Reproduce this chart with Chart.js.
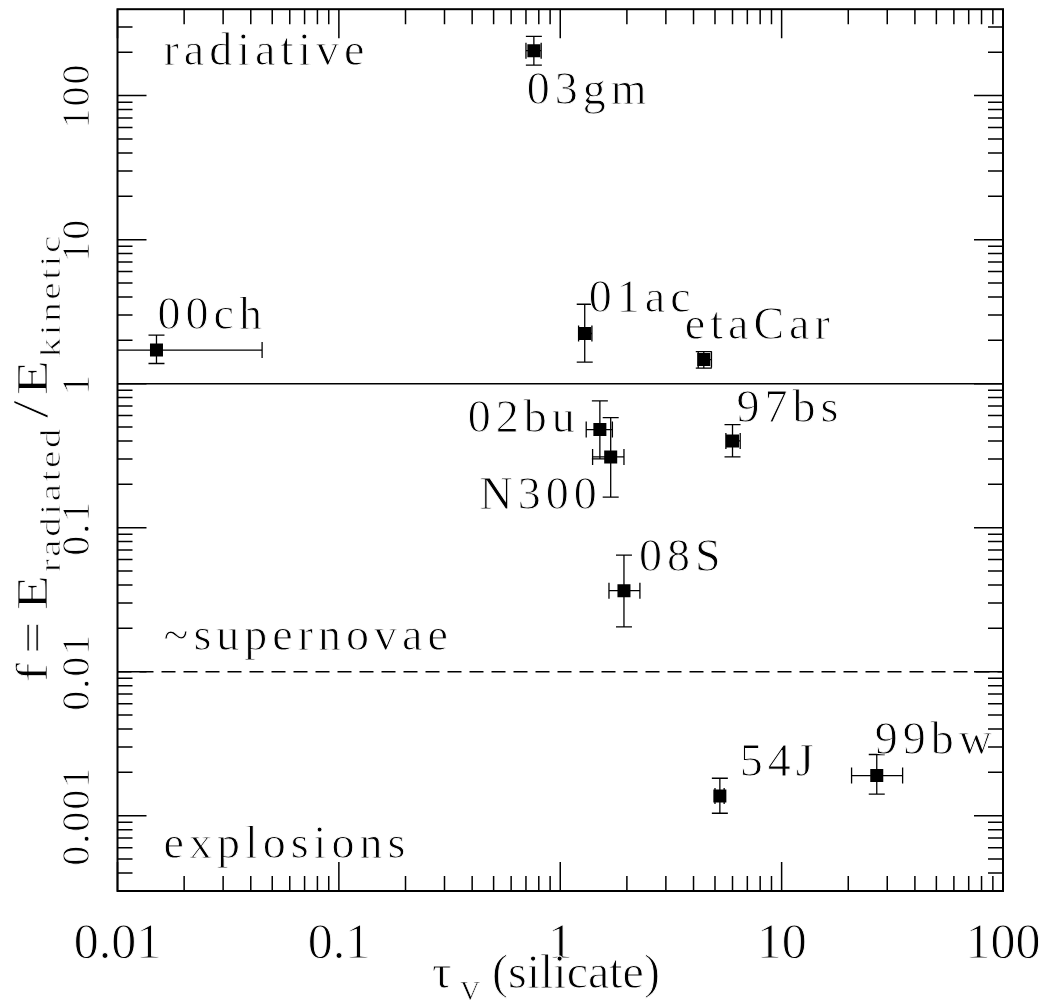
<!DOCTYPE html>
<html lang="en">
<head>
<meta charset="UTF-8">
<title>Radiated / kinetic energy vs silicate optical depth</title>
<script src="https://cdn.jsdelivr.net/npm/chart.js"></script>
<style>
  html, body { margin: 0; padding: 0; background: #fff; }
  canvas { display: block; }
</style>
</head>
<body>
<canvas id="fChart" width="1050" height="1003"></canvas>
<script>
// objects: optical depth tau_V (silicate) and f = E_rad / E_kin, with error ranges
const names  = ['03gm', '00ch', '01ac', 'etaCar', '02bu', 'N300', '97bs', '08S', '54J', '99bw'];
const tauV   = [0.76, 0.015, 1.29, 4.45, 1.51, 1.69, 6.0, 1.94, 5.26, 26.9];
const tauLo  = [0.70, 0.005, 1.21, 4.20, 1.31, 1.40, 5.6, 1.66, 5.00, 20.7];
const tauHi  = [0.82, 0.045, 1.39, 4.82, 1.72, 1.94, 6.5, 2.29, 5.50, 35.2];
const fRatio = [205, 1.71, 2.23, 1.47, 0.48, 0.31, 0.40, 0.0365, 0.00137, 0.0019];
const fLo    = [163, 1.38, 1.41, 1.28, 0.30, 0.163, 0.31, 0.0205, 0.00104, 0.00141];
const fHi    = [258, 2.17, 3.56, 1.67, 0.76, 0.58, 0.52, 0.0645, 0.00182, 0.00266];

const xTickValues = [0.01, 0.1, 1, 10, 100];
const xTickLabels = ['0.01', '0.1', '1', '10', '100'];
const yTickValues = [0.001, 0.01, 0.1, 1, 10, 100];
const yTickLabels = ['0.001', '0.01', '0.1', '1', '10', '100'];

// dividing levels: f = 1 (solid) and f = 0.01 (dashed)
const refLevels = [1, 0.01];
const regionNames = ['radiative', '~supernovae', 'explosions'];

// label offsets from each marker (px), and alignment
const labelOffsets = [[-7, 53], [1, -21], [4, -21], [-19, -21], [-20, 2],
                      [-9, 52], [4, -19], [15, -20], [20, -20], [-2, -22]];
const labelAlign = ['left', 'left', 'left', 'left', 'right', 'right', 'left', 'left', 'left', 'left'];

const SERIF = '"Liberation Serif", "DejaVu Serif", serif';

// slightly lighten the glyph strokes by tracing the outline in white
function thinText(ctx, text, x, y, w) {
  ctx.fillText(text, x, y);
  ctx.save();
  ctx.strokeStyle = '#fff';
  ctx.lineWidth = w || 0.7;
  ctx.strokeText(text, x, y);
  ctx.restore();
}

const plotDecor = {
  id: 'plotDecor',
  beforeDatasetsDraw(chart) {
    const { ctx, chartArea: a, scales: { x, y } } = chart;
    ctx.save();
    ctx.beginPath();
    ctx.rect(a.left, a.top, a.right - a.left, a.bottom - a.top);
    ctx.clip();
    ctx.strokeStyle = '#000';

    refLevels.forEach((v, k) => {
      const py = y.getPixelForValue(v);
      ctx.lineWidth = 1.5;
      ctx.setLineDash(k === 0 ? [] : [14, 8]);
      ctx.beginPath();
      ctx.moveTo(a.left, py);
      ctx.lineTo(a.right, py);
      ctx.stroke();
    });
    ctx.setLineDash([]);

    // error bars with end caps
    const cap = 8;
    ctx.lineWidth = 1.3;
    names.forEach((n, i) => {
      const px = x.getPixelForValue(tauV[i]);
      const py = y.getPixelForValue(fRatio[i]);
      const x0 = x.getPixelForValue(tauLo[i]), x1 = x.getPixelForValue(tauHi[i]);
      const y0 = y.getPixelForValue(fLo[i]), y1 = y.getPixelForValue(fHi[i]);
      ctx.beginPath();
      ctx.moveTo(x0, py); ctx.lineTo(x1, py);
      ctx.moveTo(x0, py - cap); ctx.lineTo(x0, py + cap);
      ctx.moveTo(x1, py - cap); ctx.lineTo(x1, py + cap);
      ctx.moveTo(px, y0); ctx.lineTo(px, y1);
      ctx.moveTo(px - cap, y0); ctx.lineTo(px + cap, y0);
      ctx.moveTo(px - cap, y1); ctx.lineTo(px + cap, y1);
      ctx.stroke();
    });
    ctx.restore();
  },
  afterDraw(chart) {
    const { ctx, chartArea: a, scales: { x, y } } = chart;
    ctx.save();
    ctx.strokeStyle = '#000';
    ctx.fillStyle = '#000';

    // inward ticks on all four sides
    ctx.lineWidth = 1.5;
    ctx.beginPath();
    for (let d = -4; d <= 2; d++) {
      for (let m = 1; m <= 9; m++) {
        const v = m * Math.pow(10, d);
        const len = m === 1 ? 29 : 15;
        if (v >= x.min && v <= x.max) {
          const px = x.getPixelForValue(v);
          ctx.moveTo(px, a.bottom); ctx.lineTo(px, a.bottom - len);
          ctx.moveTo(px, a.top); ctx.lineTo(px, a.top + len);
        }
        if (v >= y.min && v <= y.max) {
          const py = y.getPixelForValue(v);
          ctx.moveTo(a.left, py); ctx.lineTo(a.left + len, py);
          ctx.moveTo(a.right, py); ctx.lineTo(a.right - len, py);
        }
      }
    }
    ctx.stroke();

    // frame
    ctx.lineWidth = 2;
    ctx.strokeRect(a.left, a.top, a.right - a.left, a.bottom - a.top);

    // x tick labels
    ctx.font = '50px ' + SERIF;
    ctx.textAlign = 'center';
    ctx.textBaseline = 'alphabetic';
    xTickValues.forEach((v, k) => {
      thinText(ctx, xTickLabels[k], x.getPixelForValue(v), 958, 0.9);
    });

    // y tick labels, rotated
    ctx.font = '40px ' + SERIF;
    ctx.letterSpacing = '2px';
    yTickValues.forEach((v, k) => {
      ctx.save();
      ctx.translate(89, y.getPixelForValue(v));
      ctx.rotate(-Math.PI / 2);
      thinText(ctx, yTickLabels[k], 0, 0, 0.8);
      ctx.restore();
    });

    // x axis title: tau_V (silicate)
    ctx.letterSpacing = '0px';
    ctx.textAlign = 'left';
    ctx.font = '48px ' + SERIF;
    thinText(ctx, '\u03C4', 432, 988, 0.8);
    ctx.font = '28px ' + SERIF;
    thinText(ctx, 'V', 460, 1000, 0.6);
    ctx.font = '48px ' + SERIF;
    thinText(ctx, '(silicate)', 492, 988, 0.9);

    // y axis title: f = E_radiated / E_kinetic, running upward
    ctx.save();
    ctx.translate(0, 682);
    ctx.rotate(-Math.PI / 2);
    ctx.scale(1.3, 1);
    const pieces = [
      ['f', 44, 47, 7], ['=', 44, 47, 9], ['E', 44, 47, 2],
      ['radiated', 30, 60, 6], ['/', 50, 47, 4], ['E', 44, 47, 2], ['kinetic', 30, 60, 0]
    ];
    let run = 0;
    pieces.forEach(([t, size, base, gap]) => {
      ctx.font = size + 'px ' + SERIF;
      ctx.letterSpacing = size < 40 ? '2px' : '0px';
      thinText(ctx, t, run, base, 0.7);
      run += ctx.measureText(t).width + gap;
    });
    ctx.restore();

    // point labels and region names
    ctx.font = '46px ' + SERIF;
    ctx.letterSpacing = '5px';
    names.forEach((n, i) => {
      const px = x.getPixelForValue(tauV[i]);
      const py = y.getPixelForValue(fRatio[i]);
      ctx.textAlign = labelAlign[i];
      thinText(ctx, n, px + labelOffsets[i][0], py + labelOffsets[i][1], 0.9);
    });
    ctx.textAlign = 'left';
    const regionY = [65, 650, 858];
    regionNames.forEach((t, k) => {
      thinText(ctx, t, a.left + 46, regionY[k], 0.9);
    });
    ctx.restore();
  }
};

new Chart(document.getElementById('fChart'), {
  type: 'scatter',
  data: {
    datasets: [{
      data: names.map((n, i) => ({ x: tauV[i], y: fRatio[i] })),
      pointStyle: 'rect',
      pointRadius: 9.2,
      pointHoverRadius: 9.2,
      backgroundColor: '#000',
      borderWidth: 0
    }]
  },
  options: {
    responsive: false,
    animation: false,
    devicePixelRatio: 1,
    layout: { padding: { left: 117.5, right: 47, top: 6, bottom: 112 } },
    scales: {
      x: { type: 'logarithmic', min: 0.01, max: 100, display: false },
      y: { type: 'logarithmic', min: Math.pow(10, -3.5), max: Math.pow(10, 2.6), display: false }
    },
    plugins: { legend: { display: false }, tooltip: { enabled: false } }
  },
  plugins: [plotDecor]
});
</script>
</body>
</html>
